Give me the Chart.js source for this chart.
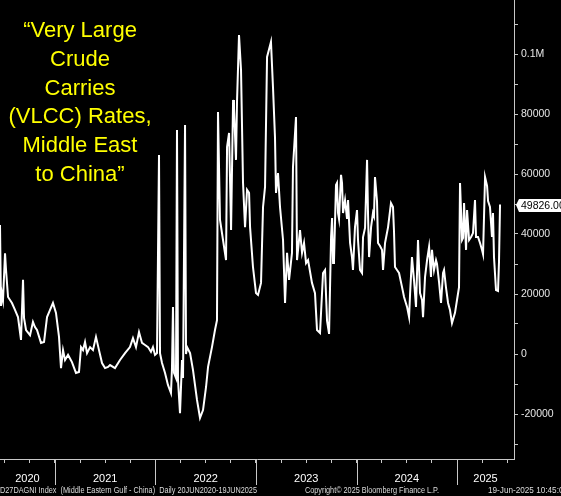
<!DOCTYPE html>
<html>
<head>
<meta charset="utf-8">
<title>VLCC Rates, Middle East to China</title>
<script src="https://cdn.jsdelivr.net/npm/chart.js@4.4.1/dist/chart.umd.min.js"></script>
<style>
  html, body { margin: 0; padding: 0; background: #000; overflow: hidden; }
  #chart { display: block; }
</style>
</head>
<body>
<canvas id="chart" width="561" height="496"></canvas>
<script>
// Decimal year of each reading (20 Jun 2020 .. 19 Jun 2025)
const years = [
  2020.453, 2020.463, 2020.473, 2020.483, 2020.503, 2020.513, 2020.533, 2020.572, 2020.602, 2020.632,
  2020.662, 2020.682, 2020.692, 2020.712, 2020.752, 2020.781, 2020.801, 2020.821, 2020.861, 2020.891,
  2020.921, 2020.951, 2020.980, 2021.010, 2021.040, 2021.060, 2021.080, 2021.100, 2021.130, 2021.169,
  2021.209, 2021.239, 2021.259, 2021.279, 2021.299, 2021.319, 2021.349, 2021.378, 2021.408, 2021.438,
  2021.468, 2021.498, 2021.528, 2021.548, 2021.597, 2021.647, 2021.697, 2021.746, 2021.776, 2021.806,
  2021.836, 2021.866, 2021.896, 2021.926, 2021.955, 2021.975, 2021.995, 2022.015, 2022.035, 2022.045,
  2022.065, 2022.095, 2022.124, 2022.154, 2022.164, 2022.174, 2022.184, 2022.204, 2022.214, 2022.224,
  2022.244, 2022.264, 2022.274, 2022.294, 2022.304, 2022.314, 2022.344, 2022.373, 2022.413, 2022.443,
  2022.473, 2022.503, 2022.523, 2022.562, 2022.592, 2022.612, 2022.622, 2022.642, 2022.672, 2022.702,
  2022.712, 2022.732, 2022.752, 2022.772, 2022.781, 2022.801, 2022.811, 2022.831, 2022.851, 2022.871,
  2022.891, 2022.911, 2022.931, 2022.941, 2022.970, 2023.000, 2023.020, 2023.050, 2023.070, 2023.090,
  2023.110, 2023.149, 2023.169, 2023.189, 2023.199, 2023.219, 2023.239, 2023.269, 2023.289, 2023.309,
  2023.329, 2023.358, 2023.368, 2023.398, 2023.408, 2023.438, 2023.458, 2023.478, 2023.498, 2023.518,
  2023.557, 2023.587, 2023.607, 2023.637, 2023.667, 2023.687, 2023.707, 2023.727, 2023.747, 2023.757,
  2023.767, 2023.776, 2023.796, 2023.806, 2023.816, 2023.826, 2023.846, 2023.856, 2023.866, 2023.886,
  2023.906, 2023.916, 2023.936, 2023.955, 2023.965, 2023.985, 2024.005, 2024.015, 2024.035, 2024.055,
  2024.065, 2024.085, 2024.105, 2024.115, 2024.125, 2024.145, 2024.164, 2024.174, 2024.184, 2024.204,
  2024.214, 2024.234, 2024.254, 2024.264, 2024.284, 2024.314, 2024.343, 2024.363, 2024.373, 2024.383,
  2024.403, 2024.423, 2024.453, 2024.473, 2024.503, 2024.523, 2024.533, 2024.552, 2024.572, 2024.592,
  2024.612, 2024.632, 2024.652, 2024.662, 2024.682, 2024.702, 2024.722, 2024.741, 2024.751, 2024.771,
  2024.791, 2024.801, 2024.821, 2024.841, 2024.861, 2024.871, 2024.891, 2024.911, 2024.930, 2024.950,
  2024.980, 2025.000, 2025.020, 2025.030, 2025.050, 2025.060, 2025.070, 2025.090, 2025.100, 2025.120,
  2025.140, 2025.159, 2025.179, 2025.189, 2025.209, 2025.229, 2025.249, 2025.259, 2025.279, 2025.299,
  2025.309, 2025.328, 2025.348, 2025.358, 2025.368, 2025.388, 2025.408, 2025.418, 2025.428
];

// D27DAGNI Index, USD/day
const rates = [
  43000, 16000, 20000, 18000, 33600, 28000, 19000, 17000, 14700, 12300,
  4700, 24700, 12000, 8000, 6300, 10700, 9000, 8000, 3700, 4000,
  12300, 14700, 17000, 13700, 5700, -4700, 1300, -2000, -300, -2700,
  -6300, -6000, 2300, 1300, 4000, 300, 2300, 1300, 5700, 1300,
  -3000, -4700, -4300, -3700, -4700, -2000, 300, 2300, 5300, 2300,
  7300, 3700, 3000, 2300, 700, 2300, -300, 300, 66300, 300,
  -3000, -6300, -10300, -13000, -5000, 15700, -6300, -8000, 74700, -8700,
  -19700, -2000, -8000, 76300, 0, 2300, 300, -5300, -15300, -21300,
  -18700, -11000, -4300, 2300, 8000, 11300, 80700, 44700, 38000, 31300,
  69000, 73700, 41300, 84700, 82000, 64700, 84000, 106300, 94700, 57000,
  42300, 54700, 53700, 42300, 29000, 20300, 19700, 23700, 49000, 55700,
  99000, 104000, 89000, 72300, 53700, 60300, 49000, 38000, 17000, 33700,
  24700, 33700, 62300, 79000, 31300, 41300, 33700, 37000, 30300, 31300,
  23700, 20300, 8000, 7000, 27000, 28000, 11000, 6700, 39000, 45300,
  30300, 31000, 56300, 57000, 47000, 45000, 59700, 57000, 47000, 51300,
  45000, 51300, 37000, 32300, 28000, 42300, 48000, 38000, 28000, 27000,
  39000, 42000, 64700, 46000, 32300, 42300, 47000, 46000, 59000, 51000,
  37000, 36000, 34700, 28000, 37000, 42300, 50300, 49000, 41000, 29000,
  28000, 27000, 22300, 19000, 15700, 12300, 20000, 32300, 24700, 15700,
  38000, 20300, 18000, 12300, 25700, 31300, 35700, 25700, 34700, 28000,
  31300, 30000, 24000, 17000, 27000, 28000, 22000, 17000, 14700, 10300,
  13700, 18000, 22300, 57000, 38000, 38700, 50300, 34700, 48000, 38000,
  39000, 40300, 51300, 39000, 39000, 37000, 34700, 33300, 59000, 56000,
  51000, 49000, 39000, 47000, 32300, 21300, 21000, 31000, 49826
];

// Axis range, ticks and texts
const xMin = 2020.453;
const xMax = 2025.567;
const yMin = -35000;
const yMax = 118000;
const yStep = 10000;
const yearLabels = [2020, 2021, 2022, 2023, 2024, 2025];
const titleLines = ['\u201CVery Large', 'Crude', 'Carries', '(VLCC) Rates,', 'Middle East', 'to China\u201D'];
const footerSource = 'D27DAGNI Index  (Middle Eastern Gulf - China)  Daily 20JUN2020-19JUN2025';
const footerCopy = 'Copyright\u00A9 2025 Bloomberg Finance L.P.';
const footerStamp = '19-Jun-2025 10:45:04';

const AXIS_COLOR = '#c8c8c8';
const FONT = '"Liberation Sans", Arial, sans-serif';

// Black page behind everything
const bgPlugin = {
  id: 'bg',
  beforeDraw(chart) {
    const c = chart.ctx;
    c.save();
    c.fillStyle = '#000';
    c.fillRect(0, 0, chart.width, chart.height);
    c.restore();
  }
};

// Year separators, yellow caption, last value tag and footer line
const decorPlugin = {
  id: 'decor',
  afterDraw(chart) {
    const c = chart.ctx;
    const xs = chart.scales.x;
    const ys = chart.scales.y;
    const area = chart.chartArea;
    c.save();

    // long separator marks at each new year
    c.strokeStyle = AXIS_COLOR;
    c.lineWidth = 1;
    for (let yr = Math.ceil(xMin); yr <= xMax; yr++) {
      const px = Math.round(xs.getPixelForValue(yr)) + 0.5;
      c.beginPath();
      c.moveTo(px, area.bottom);
      c.lineTo(px, area.bottom + 26);
      c.stroke();
    }

    // caption
    c.fillStyle = '#ffff00';
    c.font = '22px ' + FONT;
    c.textAlign = 'center';
    c.textBaseline = 'alphabetic';
    titleLines.forEach((line, i) => c.fillText(line, 80, 37 + i * 28.8));

    // last value tag on the right axis
    const last = rates[rates.length - 1];
    const ty = Math.round(ys.getPixelForValue(last));
    const left = area.right + 5;
    c.fillStyle = '#ffffff';
    c.beginPath();
    c.moveTo(area.right + 2, ty);
    c.lineTo(left, ty - 6);
    c.lineTo(chart.width, ty - 6);
    c.lineTo(chart.width, ty + 7);
    c.lineTo(left, ty + 7);
    c.closePath();
    c.fill();
    c.fillStyle = '#000';
    c.font = '10.5px ' + FONT;
    c.textAlign = 'left';
    c.textBaseline = 'middle';
    c.fillText(last.toFixed(2), left + 2, ty + 1);

    // footer
    c.fillStyle = '#dcdcdc';
    c.font = '8.5px ' + FONT;
    c.textBaseline = 'middle';
    c.fillText(footerSource, 0, 491, 257);
    c.fillText(footerCopy, 305, 491, 134);
    c.fillText(footerStamp, 488, 491, 80);
    c.restore();
  }
};

const points = years.map((yr, i) => ({ x: yr, y: rates[i] }));

new Chart(document.getElementById('chart'), {
  type: 'line',
  data: {
    datasets: [{
      data: points,
      borderColor: '#ffffff',
      borderWidth: 2,
      pointRadius: 0,
      tension: 0,
      fill: false
    }]
  },
  options: {
    responsive: false,
    animation: false,
    events: [],
    parsing: false,
    layout: { padding: 0 },
    plugins: { legend: { display: false }, tooltip: { enabled: false } },
    scales: {
      x: {
        type: 'linear',
        position: 'bottom',
        min: xMin,
        max: xMax,
        afterFit: s => { s.height = 37; s.paddingLeft = 0; s.paddingRight = 0; },
        afterBuildTicks: s => {
          const ticks = [];
          for (let q = Math.ceil(xMin * 4) / 4; q <= xMax; q += 0.25) ticks.push({ value: q });
          yearLabels.forEach(yr => {
            const mid = (Math.max(yr, xMin) + Math.min(yr + 1, xMax)) / 2;
            ticks.push({ value: mid, label: String(yr) });
          });
          s.ticks = ticks.sort((a, b) => a.value - b.value);
        },
        border: { display: true, color: AXIS_COLOR, width: 1 },
        grid: {
          drawOnChartArea: false,
          tickLength: 4,
          tickColor: ctx => (ctx.tick && ctx.tick.label ? 'rgba(0,0,0,0)' : AXIS_COLOR)
        },
        ticks: {
          autoSkip: false,
          maxRotation: 0,
          padding: 9,
          color: '#ffffff',
          font: { family: FONT, size: 11 },
          callback: function(v, i, ticks) { return ticks[i].label || ''; }
        }
      },
      y: {
        type: 'linear',
        position: 'right',
        min: yMin,
        max: yMax,
        afterFit: s => { s.width = 47; s.paddingTop = 0; s.paddingBottom = 0; },
        afterBuildTicks: s => {
          const ticks = [];
          for (let v = Math.ceil(yMin / yStep) * yStep; v <= yMax; v += yStep) ticks.push({ value: v });
          s.ticks = ticks;
        },
        border: { display: true, color: AXIS_COLOR, width: 1 },
        grid: { drawOnChartArea: false, tickLength: 4, tickColor: AXIS_COLOR },
        ticks: {
          autoSkip: false,
          padding: 3,
          color: '#e6e6e6',
          font: { family: FONT, size: 10.5 },
          callback: v => (v === 100000 ? '0.1M' : (v % 20000 === 0 ? String(v) : ''))
        }
      }
    }
  },
  plugins: [bgPlugin, decorPlugin]
});
</script>
</body>
</html>
